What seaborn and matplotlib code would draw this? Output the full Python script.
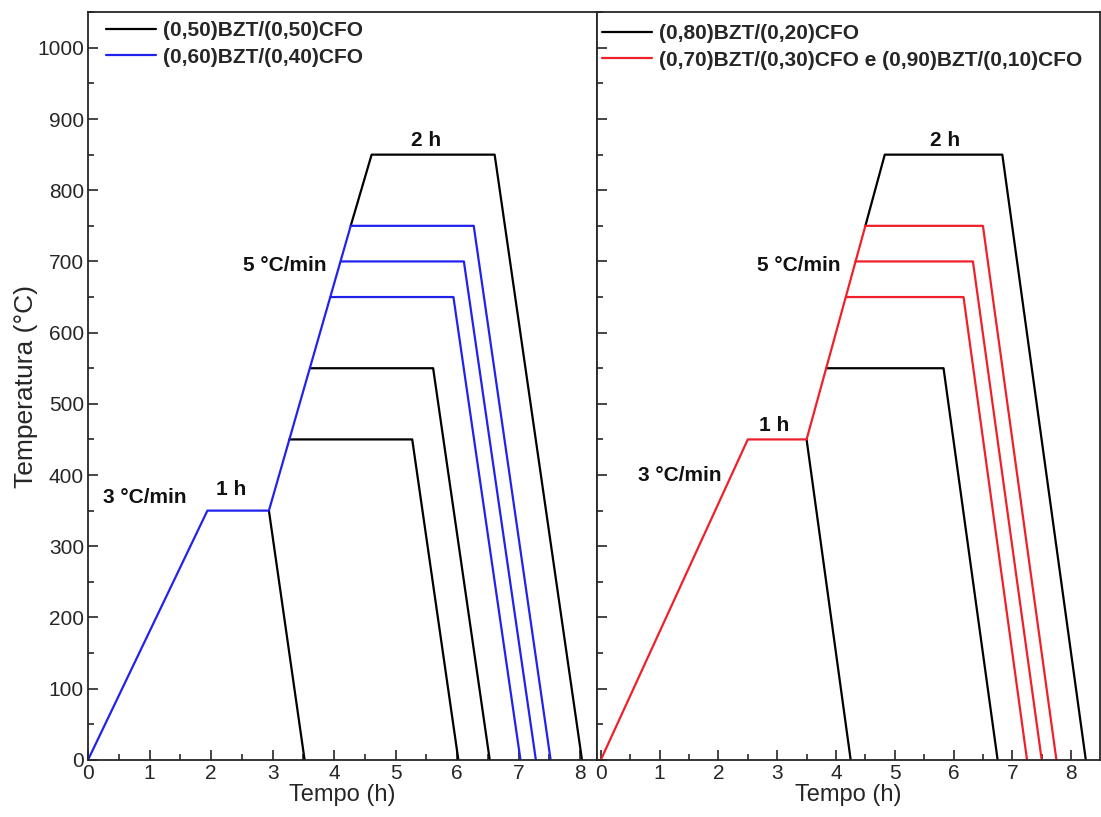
import matplotlib
matplotlib.use("Agg")
import matplotlib.pyplot as plt
import seaborn as sns
import pandas as pd
from matplotlib.ticker import MultipleLocator

sns.set_style("ticks")
plt.rcParams['font.family'] = ['Liberation Sans', 'DejaVu Sans']

# ---------------- data (vertices) ----------------
# Left panel
left_black_t = [
    [2.94, 3.52],                                   # drop from 350
    [3.27, 3.27, 5.27, 6.02],                       # 450 plateau
    [3.61, 3.61, 5.61, 6.53],                       # 550 plateau
    [4.27, 4.61, 6.61, 8.03],                       # 750 -> 850 plateau
]
left_black_T = [
    [350, 0],
    [450, 450, 450, 0],
    [550, 550, 550, 0],
    [750, 850, 850, 0],
]
left_blue_t = [
    [0.00, 1.94, 2.94, 4.27],                       # ramp 3 °C/min, 1 h, ramp 5 °C/min
    [3.94, 5.94, 7.03],                             # 650
    [4.11, 6.11, 7.28],                             # 700
    [4.27, 6.27, 7.52],                             # 750
]
left_blue_T = [
    [0, 350, 350, 750],
    [650, 650, 0],
    [700, 700, 0],
    [750, 750, 0],
]
# Right panel
right_black_t = [
    [3.50, 4.25],                                   # drop from 450
    [3.83, 3.83, 5.83, 6.75],                       # 550 plateau
    [4.50, 4.83, 6.83, 8.25],                       # 750 -> 850 plateau
]
right_black_T = [
    [450, 0],
    [550, 550, 550, 0],
    [750, 850, 850, 0],
]
right_red_t = [
    [0.00, 2.50, 3.50, 4.50],
    [4.17, 6.17, 7.25],
    [4.33, 6.33, 7.50],
    [4.50, 6.50, 7.75],
]
right_red_T = [
    [0, 450, 450, 750],
    [650, 650, 0],
    [700, 700, 0],
    [750, 750, 0],
]

left_labels = ["(0,50)BZT/(0,50)CFO", "(0,60)BZT/(0,40)CFO"]
right_labels = ["(0,80)BZT/(0,20)CFO", "(0,70)BZT/(0,30)CFO e (0,90)BZT/(0,10)CFO"]

left_notes = [("3 °C/min", 0.92, 369), ("1 h", 2.33, 379), ("5 °C/min", 3.20, 694), ("2 h", 5.49, 870)]
right_notes = [("3 °C/min", 1.34, 400), ("1 h", 2.95, 470), ("5 °C/min", 3.37, 694), ("2 h", 5.86, 870)]


def segments_df(ts, Ts, name):
    rows = []
    for i, (t, T) in enumerate(zip(ts, Ts)):
        for k, (a, b) in enumerate(zip(t, T)):
            rows.append({"seg": f"{name}{i}", "order": k, "t": a, "T": b})
    return pd.DataFrame(rows)


fig = plt.figure(figsize=(11.01, 8.17), dpi=100)
ax1 = fig.add_axes([0.080, 0.070, 0.462, 0.915])
ax2 = fig.add_axes([0.542, 0.070, 0.457, 0.915], sharey=ax1)

lw = 1.6


def draw(ax, ts, Ts, color, name, label):
    df = segments_df(ts, Ts, name)
    first = True
    for seg, g in df.groupby("seg", sort=False):
        sns.lineplot(data=g, x="t", y="T", sort=False, estimator=None, ax=ax,
                     color=color, lw=lw, label=label if first else None)
        first = False


draw(ax1, left_black_t, left_black_T, "black", "lb", left_labels[0])
draw(ax1, left_blue_t, left_blue_T, "#2222ee", "lu", left_labels[1])
draw(ax2, right_black_t, right_black_T, "black", "rb", right_labels[0])
draw(ax2, right_red_t, right_red_T, "#f0202a", "rr", right_labels[1])

for ax, notes in ((ax1, left_notes), (ax2, right_notes)):
    for txt, x, y in notes:
        ax.text(x, y, txt, ha="center", va="center", fontsize=15, fontweight="bold",
                color="#111111")

ax1.set_xlim(0, 8.27)
ax2.set_xlim(-0.07, 8.49)
ax1.set_ylim(0, 1050)

for ax in (ax1, ax2):
    ax.xaxis.set_major_locator(MultipleLocator(1))
    ax.xaxis.set_minor_locator(MultipleLocator(0.5))
    ax.yaxis.set_major_locator(MultipleLocator(100))
    ax.yaxis.set_minor_locator(MultipleLocator(50))
    ax.tick_params(which="both", direction="in", labelsize=15, width=1.2, pad=3)
    ax.tick_params(which="major", length=7)
    ax.tick_params(which="minor", length=4)
    ax.tick_params(axis="y", right=False)
    ax.tick_params(axis="x", top=False)
    ax.set_xlabel("Tempo (h)", fontsize=17, labelpad=1)
    for s in ax.spines.values():
        s.set_linewidth(1.3)

leg_kw = dict(loc="upper left", frameon=False, handlelength=2.4,
              prop={"weight": "bold", "size": 15}, borderaxespad=0, borderpad=0,
              labelspacing=0.35, handletextpad=0.35)
ax1.legend(bbox_to_anchor=(0.035, 0.988), **leg_kw)
ax2.legend(bbox_to_anchor=(0.01, 0.984), **leg_kw)

ax1.set_ylabel("Temperatura (°C)", fontsize=19, labelpad=-1)
ax2.set_ylabel("")
ax2.tick_params(axis="y", labelleft=False)

fig.savefig("out.png", dpi=100)
